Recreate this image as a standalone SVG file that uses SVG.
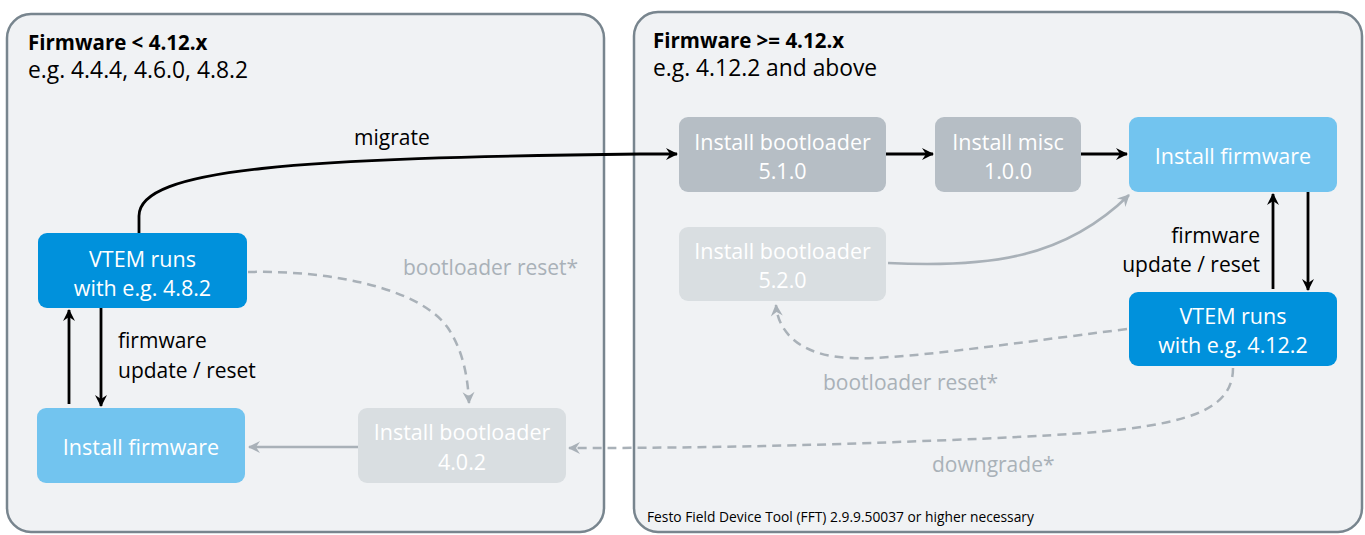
<svg xmlns="http://www.w3.org/2000/svg" width="1365" height="535" viewBox="0 0 1365 535">
<style>
text{font-family:"Open Sans","Liberation Sans",sans-serif;}
.panel{fill:#f0f2f4;stroke:#78858e;stroke-width:2.5;}
.title{font-size:20.5px;font-weight:bold;fill:#000;}
.sub{font-size:22.8px;fill:#000;}
.lbl{font-size:21px;fill:#000;}
.glbl{font-size:21px;fill:#a9b1b8;}
.nt{font-size:21.5px;fill:#fff;text-anchor:middle;}
.dark{fill:#0091dc;}
.light{fill:#72c4ef;}
.gray{fill:#b6bec5;}
.lgray{fill:#d9dee1;}
.blk{fill:none;stroke:#000;stroke-width:2.8;marker-end:url(#ab);}
.gs{fill:none;stroke:#a9b1b8;stroke-width:2.5;marker-end:url(#ag);}
.gd{fill:none;stroke:#a9b1b8;stroke-width:2.5;stroke-dasharray:9 6;marker-end:url(#ag);}
.foot{font-size:13.8px;fill:#000;}
</style>
<defs>
<marker id="ab" viewBox="0 0 14 14" refX="12" refY="7" markerWidth="14" markerHeight="14" markerUnits="userSpaceOnUse" orient="auto"><path d="M1,1 L13,7 L1,13 L5,7 z" fill="#000"/></marker>
<marker id="ag" viewBox="0 0 14 14" refX="12" refY="7" markerWidth="14" markerHeight="14" markerUnits="userSpaceOnUse" orient="auto"><path d="M1,1 L13,7 L1,13 L5,7 z" fill="#a9b1b8"/></marker>
</defs>
<g id="panel-left">
<rect class="panel" x="7" y="14" width="597" height="518" rx="24"/>
<text class="title" x="28" y="50">Firmware &lt; 4.12.x</text>
<text class="sub" x="28" y="78">e.g. 4.4.4, 4.6.0, 4.8.2</text>
</g>
<g id="panel-right">
<rect class="panel" x="634" y="12" width="728" height="520" rx="24"/>
<text class="title" x="653" y="48">Firmware &gt;= 4.12.x</text>
<text class="sub" x="653" y="76">e.g. 4.12.2 and above</text>
<text class="foot" x="647" y="522">Festo Field Device Tool (FFT)  2.9.9.50037 or higher necessary</text>
</g>
<g id="connectors">
<path class="blk" d="M139,233 L139,216 C139,168 300,158 640,154 L677,154"/>
<path class="blk" d="M886,154 L933,154"/>
<path class="blk" d="M1081,154 L1127,154"/>
<path class="gs" d="M888,263 C990,268 1065,258 1129,195"/>
<path class="blk" d="M1308,192 L1308,290"/>
<path class="blk" d="M1273,289 L1273,194"/>
<path class="blk" d="M69,404 L69,310"/>
<path class="blk" d="M101,308 L101,406"/>
<path class="gd" d="M248,272 C330,270 420,288 448,328 C464,352 468,380 469,403"/>
<path class="gs" d="M358,447 L249,447"/>
<path class="gd" d="M1233,368 C1233,425 1150,432 950,440 C800,446 700,448 569,448"/>
<path class="gd" d="M1127,329 C1000,345 900,360 850,358 C800,356 778,332 776,305"/>
<text class="lbl" x="354" y="145">migrate</text>
<text class="lbl" x="118" y="348">firmware</text>
<text class="lbl" x="118" y="378">update / reset</text>
<text class="lbl" x="1260" y="243" text-anchor="end">firmware</text>
<text class="lbl" x="1260" y="272" text-anchor="end">update / reset</text>
<text class="glbl" x="403" y="275">bootloader reset*</text>
<text class="glbl" x="823" y="390">bootloader reset*</text>
<text class="glbl" x="932" y="472">downgrade*</text>
</g>
<g id="vtem-left">
<rect class="dark" x="38" y="233" width="209" height="75" rx="9"/>
<text class="nt" x="142.5" y="267">VTEM runs</text>
<text class="nt" x="142.5" y="296">with e.g. 4.8.2</text>
</g>
<g id="install-firmware-left">
<rect class="light" x="37" y="408" width="208" height="75" rx="9"/>
<text class="nt" x="141" y="455">Install firmware</text>
</g>
<g id="bootloader-402">
<rect class="lgray" x="358" y="408" width="208" height="75" rx="9"/>
<text class="nt" x="462" y="440">Install bootloader</text>
<text class="nt" x="462" y="470">4.0.2</text>
</g>
<g id="bootloader-510">
<rect class="gray" x="679" y="117" width="207" height="75" rx="9"/>
<text class="nt" x="782.5" y="150">Install bootloader</text>
<text class="nt" x="782.5" y="179">5.1.0</text>
</g>
<g id="misc-100">
<rect class="gray" x="935" y="117" width="146" height="75" rx="9"/>
<text class="nt" x="1008" y="150">Install misc</text>
<text class="nt" x="1008" y="179">1.0.0</text>
</g>
<g id="install-firmware-right">
<rect class="light" x="1129" y="117" width="208" height="75" rx="9"/>
<text class="nt" x="1233" y="164">Install firmware</text>
</g>
<g id="bootloader-520">
<rect class="lgray" x="679" y="227" width="207" height="74" rx="9"/>
<text class="nt" x="782.5" y="259">Install bootloader</text>
<text class="nt" x="782.5" y="288">5.2.0</text>
</g>
<g id="vtem-right">
<rect class="dark" x="1129" y="292" width="208" height="74" rx="9"/>
<text class="nt" x="1233" y="324">VTEM runs</text>
<text class="nt" x="1233" y="353">with e.g. 4.12.2</text>
</g>
</svg>
